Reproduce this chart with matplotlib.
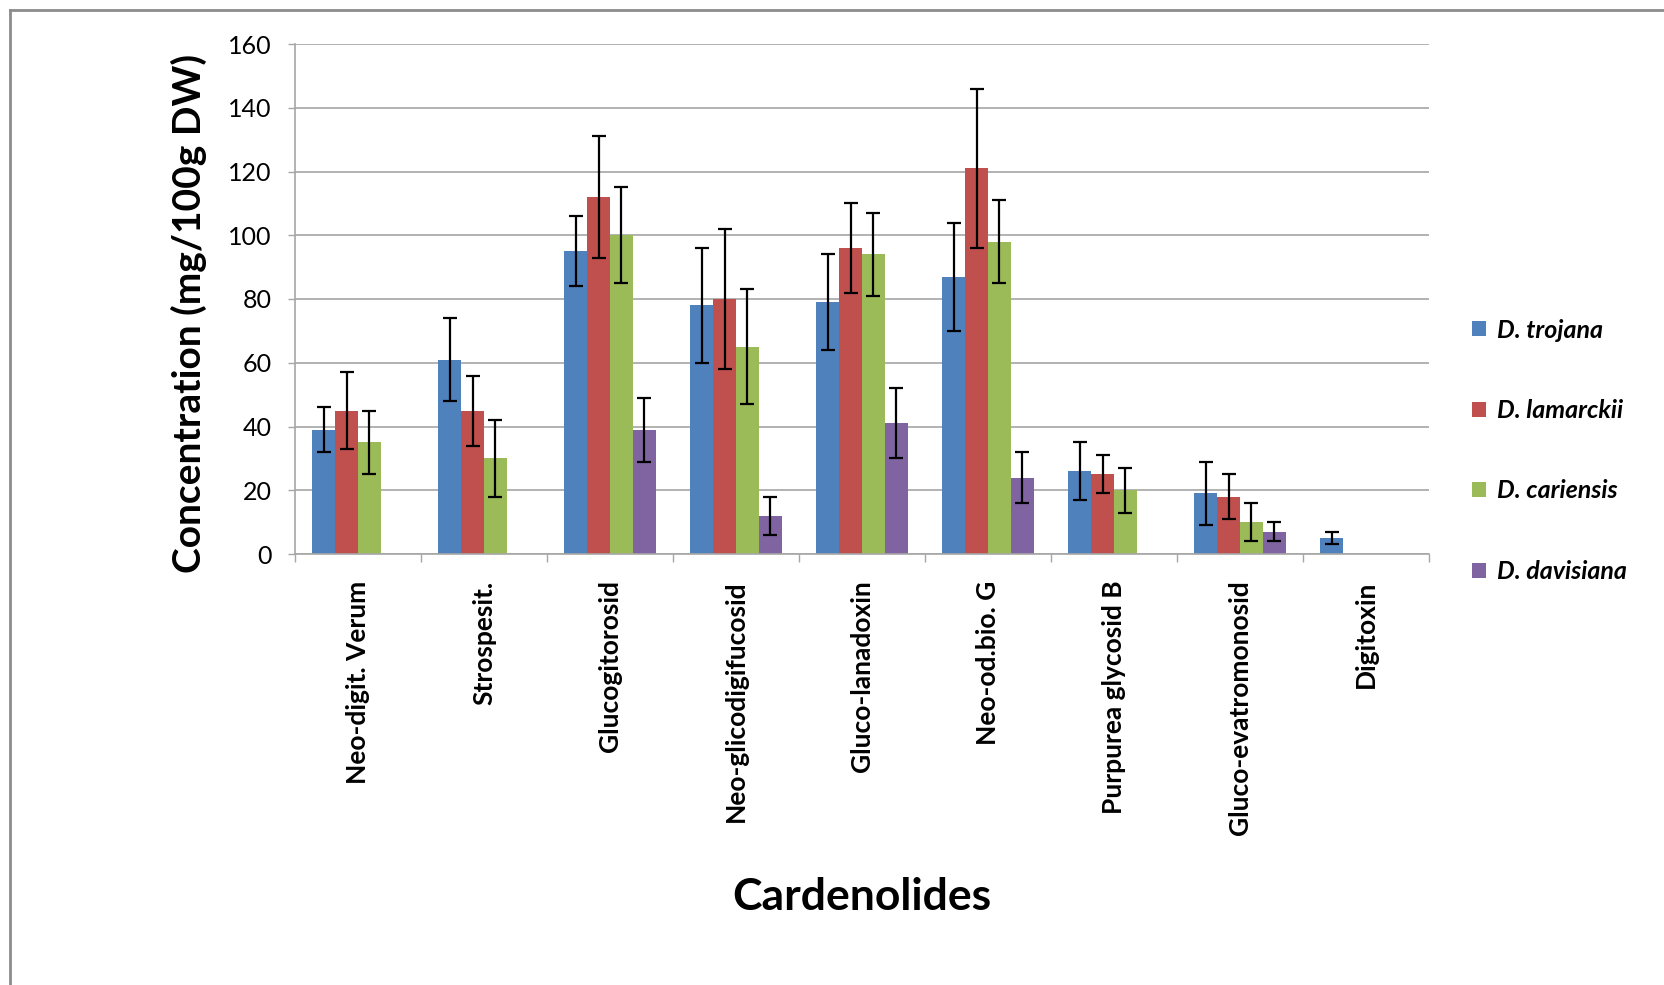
"""Cardenolides concentration per Digitalis species (bar chart with error bars)"""

import numpy as np
import matplotlib.pyplot as plt
from matplotlib.lines import Line2D
from matplotlib.patches import Patch

# categorias (eixo x)
compostos = ["Neo-digit. Verum", "Strospesit.", "Glucogitorosid", "Neo-glicodigifucosid",
             "Gluco-lanadoxin", "Neo-od.bio. G", "Purpurea glycosid B",
             "Gluco-evatromonosid", "Digitoxin"]

especies = ["D. trojana", "D. lamarckii", "D. cariensis", "D. davisiana"]

# medias (mg/100g DW), nan = sem barra
trojana = [39, 61, 95, 78, 79, 87, 26, 19, 5]
lamarckii = [45, 45, 112, 80, 96, 121, 25, 18, np.nan]
cariensis = [35, 30, 100, 65, 94, 98, 20, 10, np.nan]
davisiana = [np.nan, np.nan, 39, 12, 41, 24, np.nan, 7, np.nan]

# desvios
err_trojana = [7, 13, 11, 18, 15, 17, 9, 10, 2]
err_lamarckii = [12, 11, 19, 22, 14, 25, 6, 7, np.nan]
err_cariensis = [10, 12, 15, 18, 13, 13, 7, 6, np.nan]
err_davisiana = [np.nan, np.nan, 10, 6, 11, 8, np.nan, 3, np.nan]

cores = ["#4F81BD", "#C0504D", "#9BBB59", "#8064A2"]

plt.rcParams['font.family'] = ['Lato', 'DejaVu Sans']

fig = plt.figure(figsize=(16.65, 9.85), dpi=100)
ax = fig.add_axes([295/1665, 1-554/985, (1429-295)/1665, (554-44)/985])

x = np.arange(len(compostos))
w = 1 / 5.5
series = [trojana, lamarckii, cariensis, davisiana]
erros = [err_trojana, err_lamarckii, err_cariensis, err_davisiana]

for i, (vals, errs) in enumerate(zip(series, erros)):
    vals = np.array(vals, dtype=float)
    errs = np.array(errs, dtype=float)
    ok = ~np.isnan(vals)
    pos = x[ok] + (i - 1.5) * w
    ax.bar(pos, vals[ok], width=w, color=cores[i], zorder=2)
    ax.errorbar(pos, vals[ok], yerr=errs[ok], fmt='none', ecolor='black',
                elinewidth=1.6, capsize=4.8, capthick=1.6, zorder=3)

ax.set_xlim(-0.5, len(compostos) - 0.5)
ax.set_ylim(0, 160)
ax.set_yticks(np.arange(0, 161, 20))
ax.yaxis.grid(True, color='#A6A6A6', linewidth=1.2, zorder=0)
ax.set_axisbelow(True)

# ticks do x nas fronteiras, rotulos no centro
ax.set_xticks(np.arange(-0.5, len(compostos), 1))
ax.set_xticklabels([])
ax.set_xticks(x, minor=True)
ax.set_xticklabels(compostos, minor=True, rotation=90, fontsize=19, fontweight='bold', va='top')
ax.tick_params(axis='x', which='minor', length=0, pad=19)
ax.tick_params(axis='x', which='major', length=6, color='#A6A6A6', width=1)
ax.tick_params(axis='y', length=5, color='#A6A6A6', width=1, labelsize=18, pad=12)

for s in ['top', 'right']:
    ax.spines[s].set_visible(False)
for s in ['left', 'bottom']:
    ax.spines[s].set_color('#A6A6A6')
    ax.spines[s].set_linewidth(1.2)

fig.text(189/1665, 1-313/985, "Concentration (mg/100g DW)", rotation=90,
         ha='center', va='center', fontsize=28, fontweight='bold')
fig.text(862/1665, 1-897/985, "Cardenolides", ha='center', va='center',
         fontsize=32, fontweight='bold')

handles = [Patch(facecolor=c) for c in cores]
fig.legend(handles, especies, loc='upper left', bbox_to_anchor=(1460/1665, 1-306/985),
           frameon=False, borderpad=0, labelspacing=2.3, handlelength=0.55,
           handleheight=0.55, handletextpad=0.45,
           prop={'size': 18, 'weight': 'bold', 'style': 'italic'})

# moldura do grafico (cortada a direita e embaixo)
fig.add_artist(Line2D([10/1665, 1], [1-10/985, 1-10/985], color='#8C8C8C', linewidth=2))
fig.add_artist(Line2D([10/1665, 10/1665], [0, 1-10/985], color='#8C8C8C', linewidth=2))

fig.savefig("out.png", dpi=100)
